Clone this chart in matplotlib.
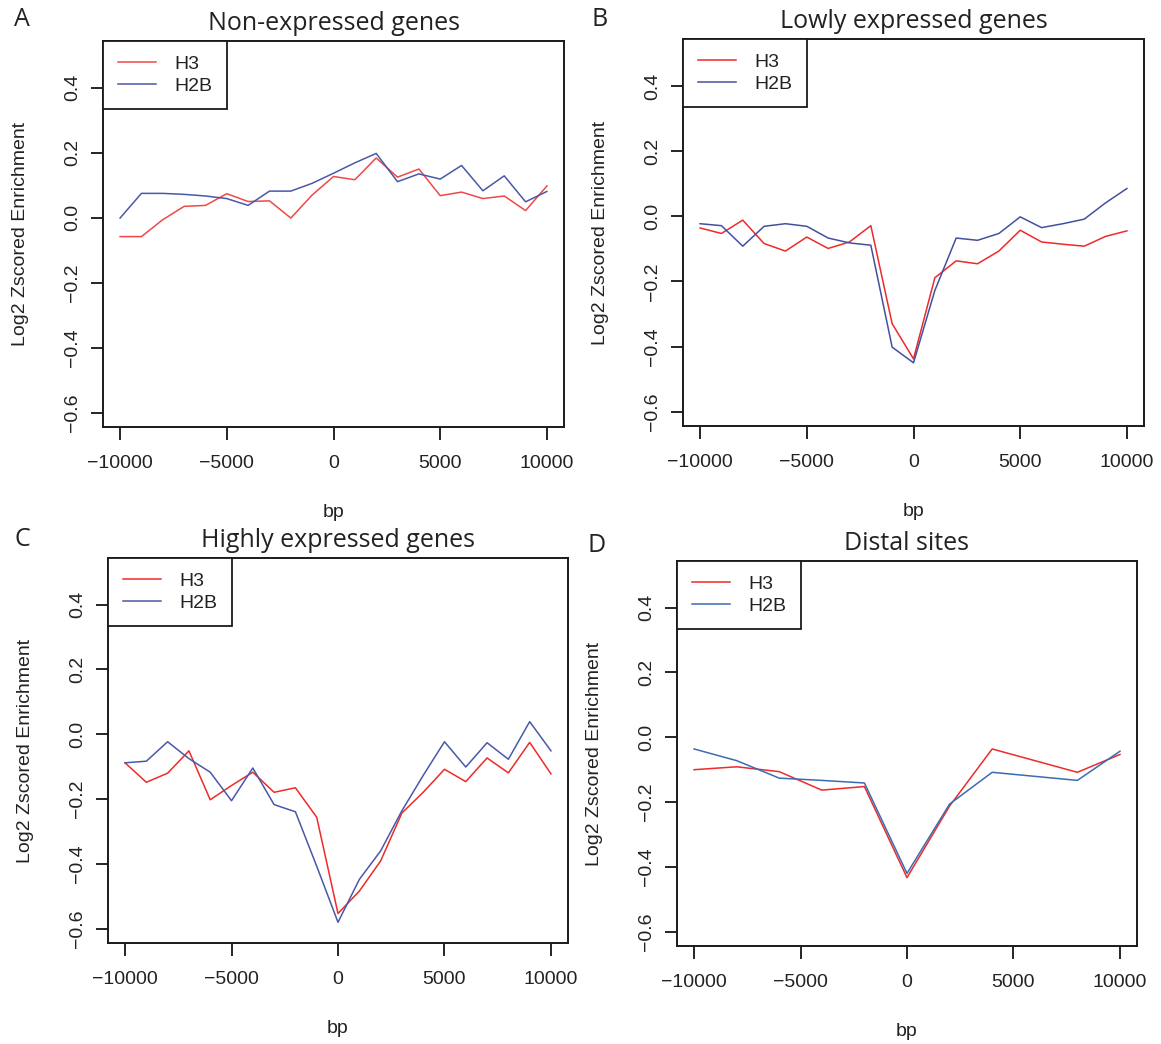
import matplotlib
matplotlib.use("Agg")
import matplotlib.pyplot as plt

# ---------------- data ----------------
x_genes = [-10000, -9000, -8000, -7000, -6000, -5000, -4000, -3000, -2000, -1000, 0,
           1000, 2000, 3000, 4000, 5000, 6000, 7000, 8000, 9000, 10000]
x_distal = [-10000, -8000, -6000, -4000, -2000, 0, 2000, 4000, 8000, 10000]

nonexp_h3 = [-0.058, -0.058, -0.006, 0.035, 0.038, 0.074, 0.050, 0.052, -0.001, 0.070, 0.127,
             0.117, 0.184, 0.125, 0.150, 0.068, 0.079, 0.059, 0.067, 0.022, 0.098]
nonexp_h2b = [-0.001, 0.075, 0.075, 0.072, 0.067, 0.059, 0.038, 0.082, 0.082, 0.106, 0.137,
              0.169, 0.198, 0.111, 0.135, 0.119, 0.161, 0.083, 0.129, 0.049, 0.081]

low_h3 = [-0.036, -0.053, -0.012, -0.084, -0.107, -0.064, -0.099, -0.079, -0.029, -0.330, -0.438,
          -0.189, -0.137, -0.146, -0.107, -0.043, -0.079, -0.086, -0.092, -0.062, -0.045]
low_h2b = [-0.023, -0.029, -0.092, -0.031, -0.023, -0.031, -0.067, -0.082, -0.089, -0.402, -0.450,
           -0.228, -0.067, -0.074, -0.053, -0.002, -0.035, -0.023, -0.009, 0.041, 0.085]

high_h3 = [-0.088, -0.148, -0.120, -0.051, -0.202, -0.158, -0.117, -0.179, -0.165, -0.256, -0.553,
           -0.484, -0.391, -0.243, -0.179, -0.108, -0.146, -0.073, -0.119, -0.025, -0.122]
high_h2b = [-0.088, -0.083, -0.023, -0.075, -0.117, -0.205, -0.104, -0.217, -0.239, -0.407, -0.580,
            -0.448, -0.360, -0.236, -0.127, -0.023, -0.101, -0.026, -0.077, 0.039, -0.051]

distal_h3 = [-0.100, -0.091, -0.106, -0.163, -0.152, -0.433, -0.212, -0.036, -0.108, -0.053]
distal_h2b = [-0.036, -0.072, -0.126, -0.133, -0.141, -0.420, -0.206, -0.108, -0.133, -0.043]

panel_letters = ["A", "B", "C", "D"]
titles = ["Non-expressed genes", "Lowly expressed genes", "Highly expressed genes", "Distal sites"]
series_labels = ["H3", "H2B"]
x_ticks = [-10000, -5000, 0, 5000, 10000]
y_ticks = [-0.6, -0.4, -0.2, 0.0, 0.2, 0.4]

# ---------------- figure ----------------
W, H = 1161, 1044
fig = plt.figure(figsize=(W / 100, H / 100), dpi=100)

tick_font = "Liberation Sans"
title_font = "Open Sans"

def rect(l, r, t, b):
    return [l / W, 1 - b / H, (r - l) / W, (b - t) / H]

axes_rects = [rect(103, 564, 41, 427), rect(683, 1144, 39, 426),
              rect(108, 568, 558, 943), rect(677, 1137, 561, 946)]
panel_data = [(x_genes, nonexp_h3, nonexp_h2b),
              (x_genes, low_h3, low_h2b),
              (x_genes, high_h3, high_h2b),
              (x_distal, distal_h3, distal_h2b)]
red_colors = ["#f04848", "#ee2a2a", "#ee2a2a", "#ee2a2a"]
blue_colors = ["#4a58a8", "#42519f", "#4a58a8", "#3a6cb4"]
letter_pos = [(22, 20), (600, 20), (22, 540), (597, 545)]

for i, (r, (xs, h3, h2b)) in enumerate(zip(axes_rects, panel_data)):
    ax = fig.add_axes(r)
    ax.plot(xs, h3, color=red_colors[i], lw=1.1, label=series_labels[0])
    ax.plot(xs, h2b, color=blue_colors[i], lw=1.1, label=series_labels[1])
    ax.set_xlim(-10800, 10800)
    ax.set_ylim(-0.644, 0.544)
    ax.set_xticks(x_ticks)
    ax.set_yticks(y_ticks)
    ax.set_xticklabels(["\u221210000", "\u22125000", "0", "5000", "10000"],
                       family=tick_font, fontsize=14, color="#222222")
    ax.set_yticklabels([f"{v:.1f}".replace("-", "\u2212") for v in y_ticks],
                       family=tick_font, fontsize=14, rotation=90, va="center",
                       color="#222222")
    ax.tick_params(axis="x", direction="out", length=9.5, width=1.2, pad=11)
    ax.tick_params(axis="y", direction="out", length=8.5, width=1.2, pad=7)
    for s in ax.spines.values():
        s.set_linewidth(1.4)
        s.set_color("#1a1a1a")
    ax.set_xlabel("bp", family=tick_font, fontsize=14, color="#222222")
    ax.xaxis.set_label_coords(0.5, -0.2)
    ax.set_ylabel("Log2 Zscored Enrichment", family=tick_font, fontsize=14, color="#222222")
    ax.yaxis.set_label_coords(-0.16, 0.5)
    ax.set_title(titles[i], family=title_font, fontsize=18, pad=8, color="#222222")
    leg = ax.legend(loc="upper left", borderaxespad=0, fancybox=False, framealpha=1,
                    edgecolor="#1a1a1a", prop={"family": tick_font, "size": 14},
                    handlelength=2.0, handletextpad=0.9, borderpad=0.75,
                    labelspacing=0.2)
    leg.get_frame().set_linewidth(1.3)
    for t in leg.get_texts():
        t.set_color("#222222")
    fig.text(letter_pos[i][0], H - letter_pos[i][1], panel_letters[i],
             transform=None, family=title_font, fontsize=18, ha="center", va="center",
             color="#222222")

fig.savefig("out.png", dpi=100)
